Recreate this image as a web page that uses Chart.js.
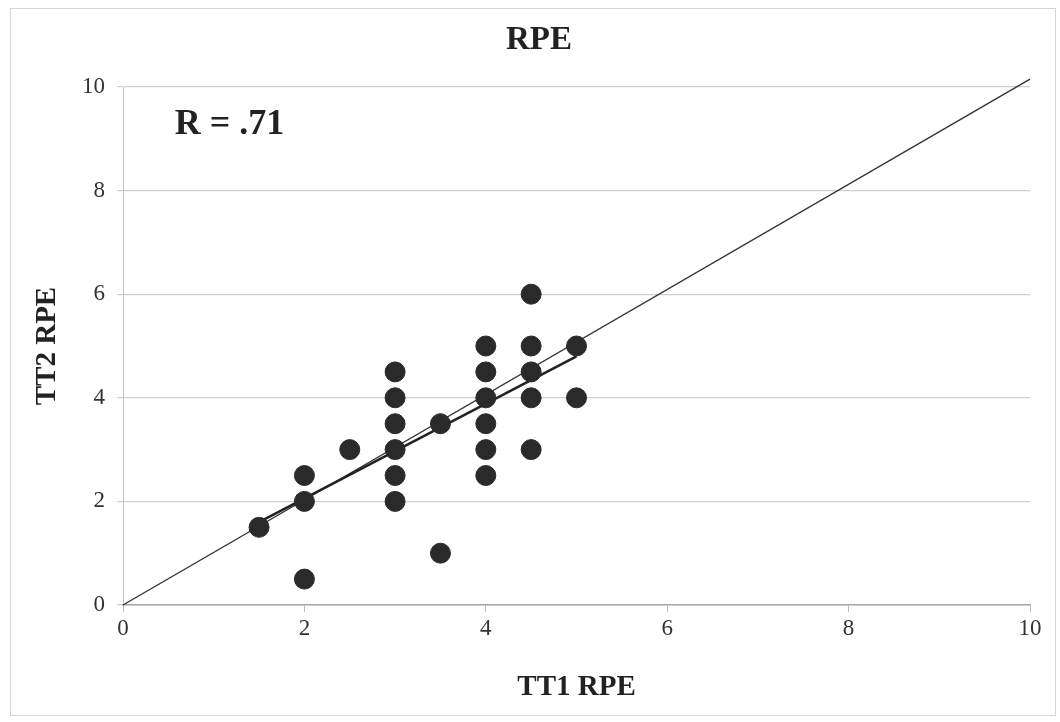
<!DOCTYPE html>
<html>
<head>
<meta charset="utf-8">
<script src="https://cdn.jsdelivr.net/npm/chart.js@4"></script>
<style>
  body { margin: 0; background: #fff; }
  #wrap { position: relative; width: 1060px; height: 722px; }
  #frame { position: absolute; left: 10px; top: 8px; width: 1044px; height: 706px; border: 1px solid #d6d6d6; pointer-events: none; }
</style>
</head>
<body>
<div id="wrap">
  <canvas id="chart" width="1060" height="722"></canvas>
  <div id="frame"></div>
</div>
<script>
// observed points
const tt1 = [1.5, 2, 2, 2, 2.5, 3, 3, 3, 3, 3, 3, 3.5, 3.5, 4, 4, 4, 4, 4, 4, 4.5, 4.5, 4.5, 4.5, 4.5, 5, 5];
const tt2 = [1.5, 2, 2.5, 0.5, 3, 4.5, 4, 3.5, 3, 2.5, 2, 3.5, 1, 5, 4.5, 4, 3.5, 3, 2.5, 6, 5, 4.5, 4, 3, 5, 4];

// line of identity and the fitted line
const identityX = [0, 10];
const identityY = [0, 10.15];
const fitX = [1.5, 5];
const fitY = [1.6, 4.8];

const tickValues = [0, 2, 4, 6, 8, 10];
const rLabel = 'R = .71';
const rLabelAt = { x: 0.57, y: 9.27 };

const ink = '#2a2a2a';
const serif = "'Liberation Serif', 'DejaVu Serif', serif";

const toPoints = (xs, ys) => xs.map((x, i) => ({ x, y: ys[i] }));

const rText = {
  id: 'rText',
  afterDatasetsDraw(chart) {
    const { ctx, scales } = chart;
    ctx.save();
    ctx.font = `bold 36px ${serif}`;
    ctx.fillStyle = '#222';
    ctx.textBaseline = 'middle';
    ctx.fillText(rLabel, scales.x.getPixelForValue(rLabelAt.x), scales.y.getPixelForValue(rLabelAt.y));
    ctx.restore();
  }
};

new Chart(document.getElementById('chart'), {
  type: 'scatter',
  data: {
    datasets: [
      {
        label: 'identity',
        data: toPoints(identityX, identityY),
        showLine: true,
        borderColor: '#333',
        borderWidth: 1.4,
        pointRadius: 0,
        clip: false,
        order: 2,
      },
      {
        label: 'fit',
        data: toPoints(fitX, fitY),
        showLine: true,
        borderColor: '#222',
        borderWidth: 2.6,
        pointRadius: 0,
        order: 1,
      },
      {
        label: 'RPE',
        data: toPoints(tt1, tt2),
        backgroundColor: ink,
        borderColor: ink,
        pointRadius: 10,
        pointHoverRadius: 10,
        order: 0,
      },
    ],
  },
  options: {
    responsive: false,
    animation: false,
    layout: { padding: { left: 48, right: 30, top: 10, bottom: 17 } },
    plugins: {
      legend: { display: false },
      tooltip: { enabled: false },
      title: {
        display: true,
        text: 'RPE',
        color: '#222',
        font: { family: serif, size: 33, weight: 'bold' },
        padding: { top: 11, bottom: 26.4 },
      },
    },
    scales: {
      x: {
        type: 'linear',
        min: 0,
        max: 10,
        afterBuildTicks: (s) => { s.ticks = tickValues.map(v => ({ value: v })); },
        afterFit: (s) => { s.height = 100; },
        ticks: { color: '#333', font: { family: serif, size: 23 }, padding: 3 },
        grid: { drawOnChartArea: false, drawTicks: true, tickLength: 7, color: '#bdbdbd' },
        border: { color: '#a8a8a8', width: 1.5 },
        title: {
          display: true,
          text: 'TT1 RPE',
          color: '#222',
          font: { family: serif, size: 29, weight: 'bold' },
          padding: { top: 0, bottom: 0 },
        },
      },
      y: {
        type: 'linear',
        min: 0,
        max: 10,
        afterBuildTicks: (s) => { s.ticks = tickValues.map(v => ({ value: v })); },
        afterFit: (s) => { s.width = 75; },
        ticks: { color: '#333', font: { family: serif, size: 23 }, padding: 12 },
        grid: { color: '#cfcfcf', lineWidth: 1.2, tickLength: 6 },
        border: { color: '#c4c4c4', width: 1 },
        title: {
          display: true,
          text: 'TT2 RPE',
          color: '#222',
          font: { family: serif, size: 29, weight: 'bold' },
          padding: { top: -17.4, bottom: 0 },
        },
      },
    },
  },
  plugins: [rText],
});
</script>
</body>
</html>
